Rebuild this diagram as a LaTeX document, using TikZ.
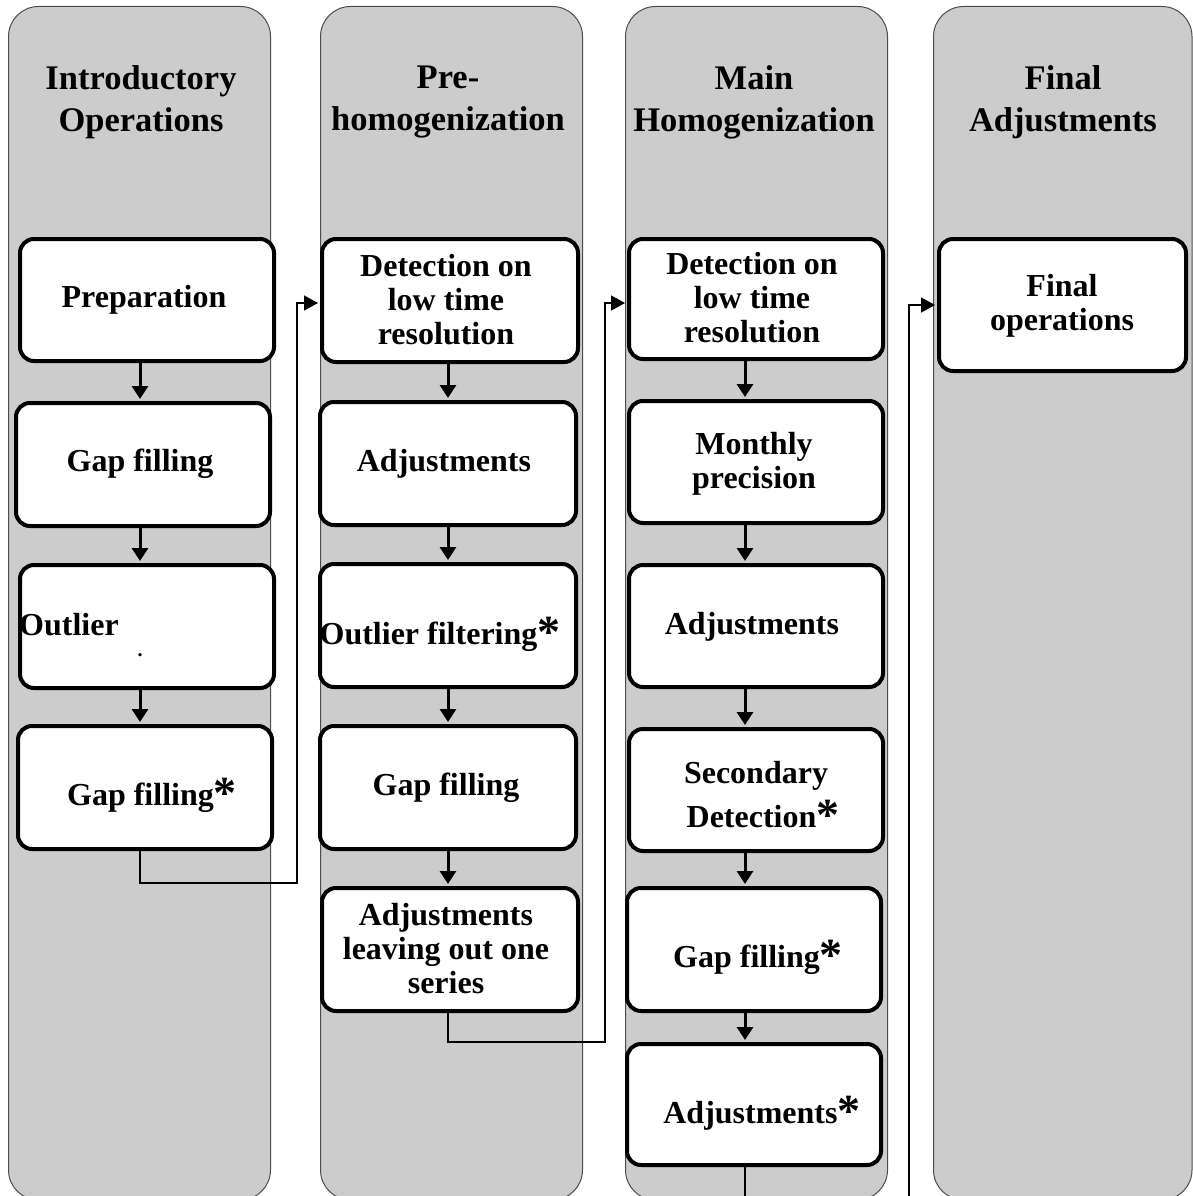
\documentclass[tikz,border=0pt]{standalone}
\usepackage{fontspec}
\setmainfont{Liberation Serif}
\usetikzlibrary{arrows.meta}
\newcommand{\myast}{\raisebox{-3pt}{\fontsize{46}{46}\selectfont *}}
\tikzset{
  lane/.style={draw=black!70, line width=1pt, fill=black!20, rounded corners=30pt},
  box/.style={draw=black, line width=4pt, fill=white, rounded corners=14pt, inner sep=0pt},
  head/.style={font=\fontsize{34.5}{42}\selectfont\bfseries, align=center, inner sep=0pt},
  txt/.style={font=\fontsize{32}{34}\selectfont\bfseries, align=center, inner sep=0pt},
  varrow/.style={line width=3pt, -{Triangle[length=13pt,width=16pt]}, shorten >=2pt},
  conn/.style={line width=1.5pt, -{Triangle[length=14pt,width=15pt]}, shorten >=2pt}
}
\begin{document}
\begin{tikzpicture}[x=1pt,y=-1pt]
\useasboundingbox (0,0) rectangle (1193,1196);
% lanes
\draw[lane] (8.5,6.5) rectangle (270.5,1200);
\draw[lane] (320.5,6.5) rectangle (582.5,1200);
\draw[lane] (625.5,6.5) rectangle (887.5,1200);
\draw[lane] (933.5,6.5) rectangle (1192,1200);
% headings
\node[head] (h1) at (141,102) {Introductory\\Operations};
\node[head] (h2) at (448,102) {Pre-\\homogenization};
\node[head] (h3) at (754,102) {Main\\Homogenization};
\node[head] (h4) at (1063,102) {Final\\Adjustments};
% lane 1 boxes
\node[box, minimum width=254pt, minimum height=122pt] (prep) at (147,300) {};
\node[box, minimum width=254pt, minimum height=123pt] (gapA) at (143,464.5) {};
\node[box, minimum width=254pt, minimum height=123pt] (outl) at (147,626.5) {};
\node[box, minimum width=254pt, minimum height=123pt] (gapB) at (145,787.5) {};
% lane 2 boxes
\node[box, minimum width=256pt, minimum height=123pt] (det2) at (450,300.5) {};
\node[box, minimum width=256pt, minimum height=123pt] (adj2) at (448,463.5) {};
\node[box, minimum width=256pt, minimum height=123pt] (outf) at (448,625.5) {};
\node[box, minimum width=256pt, minimum height=123pt] (gap2) at (448,787.5) {};
\node[box, minimum width=256pt, minimum height=123pt] (leave) at (450,949.5) {};
% lane 3 boxes
\node[box, minimum width=254pt, minimum height=120pt] (det3) at (756,299) {};
\node[box, minimum width=254pt, minimum height=122pt] (mon) at (756,462) {};
\node[box, minimum width=254pt, minimum height=122pt] (adj3) at (756,626) {};
\node[box, minimum width=254pt, minimum height=122pt] (sec) at (756,790) {};
\node[box, minimum width=254pt, minimum height=123pt] (gap3) at (754,949.5) {};
\node[box, minimum width=254pt, minimum height=121pt] (adjs) at (754,1104.5) {};
% lane 4 box
\node[box, minimum width=247pt, minimum height=132pt] (fin) at (1062.5,305) {};
% texts
\node[txt] (tprep) at (144,300) {Preparation};
\node[txt] (tgapA) at (140,464) {Gap filling};
\node[txt, anchor=west] (toutl) at (19,625) {Outlier};
\node[font=\fontsize{20}{20}\selectfont\bfseries, inner sep=0pt] (tdot) at (140,655) {.};
\node[txt] (tgapB) at (152,795) {Gap filling\myast};
\node[txt] (tdet2) at (446,300) {Detection on\\low time\\resolution};
\node[txt] (tadj2) at (444,464) {Adjustments};
\node[txt] (toutf) at (440,634) {Outlier filtering\myast};
\node[txt] (tgap2) at (446,788) {Gap filling};
\node[txt] (tleave) at (446,949) {Adjustments\\leaving out one\\series};
\node[txt] (tdet3) at (752,298) {Detection on\\low time\\resolution};
\node[txt] (tmon) at (754,464) {Monthly\\precision};
\node[txt] (tadj3) at (752,627) {Adjustments};
\node[txt, font=\fontsize{32}{44}\selectfont\bfseries] (tsec) at (756,796) {Secondary\\\hspace*{14pt}Detection\myast};
\node[txt] (tgap3) at (758,957) {Gap filling\myast};
\node[txt] (tadjs) at (762,1113) {Adjustments\myast};
\node[txt] (tfin) at (1062,306) {Final\\operations};
% vertical arrows
\coordinate (c1) at (140,0);
\coordinate (c2) at (448,0);
\coordinate (c3) at (745,0);
\draw[varrow] (prep.south -| c1) -- (gapA.north -| c1);
\draw[varrow] (gapA.south -| c1) -- (outl.north -| c1);
\draw[varrow] (outl.south -| c1) -- (gapB.north -| c1);
\draw[varrow] (det2.south -| c2) -- (adj2.north -| c2);
\draw[varrow] (adj2.south -| c2) -- (outf.north -| c2);
\draw[varrow] (outf.south -| c2) -- (gap2.north -| c2);
\draw[varrow] (gap2.south -| c2) -- (leave.north -| c2);
\draw[varrow] (det3.south -| c3) -- (mon.north -| c3);
\draw[varrow] (mon.south -| c3) -- (adj3.north -| c3);
\draw[varrow] (adj3.south -| c3) -- (sec.north -| c3);
\draw[varrow] (sec.south -| c3) -- (gap3.north -| c3);
\draw[varrow] (gap3.south -| c3) -- (adjs.north -| c3);
% connectors between lanes
\coordinate (j1) at (297,883);
\coordinate (e1) at (0,303);
\draw[conn] (gapB.south -| c1) |- (j1) |- (det2.west |- e1);
\coordinate (j2) at (605,1042);
\draw[conn] (leave.south -| c2) |- (j2) |- (det3.west |- e1);
\coordinate (j3) at (909,1230);
\coordinate (e3) at (0,305);
\draw[conn] (adjs.south -| c3) |- (j3) |- (fin.west |- e3);
\end{tikzpicture}
\end{document}
